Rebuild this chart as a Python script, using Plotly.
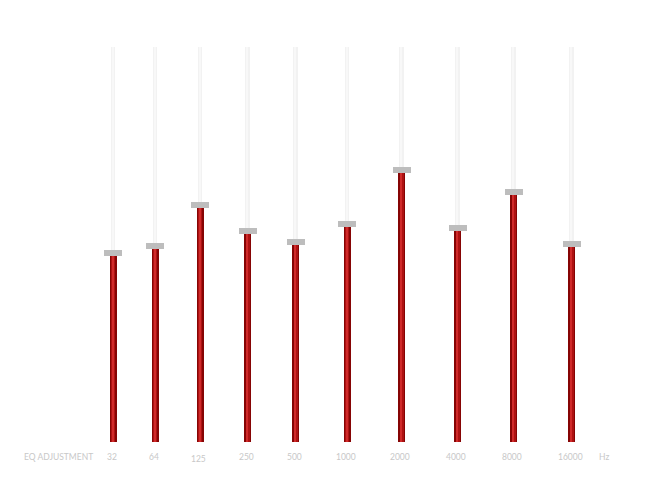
import plotly.graph_objects as go

# ---- data ----
bands = ["32", "64", "125", "250", "500", "1000", "2000", "4000", "8000", "16000"]
gain_levels = [47.8, 49.6, 60.0, 53.4, 50.6, 55.2, 68.9, 54.2, 63.3, 50.1]  # 0-100 slider scale
axis_title = "EQ ADJUSTMENT"
unit_label = "Hz"

# ---- layout (column centres on a page-pixel-like layout scale) ----
COLUMN_X = [113, 155, 200, 247.5, 295.5, 347, 401.5, 457.5, 513.5, 571.5]
TRACK_MAX = 100
KNOB_H = 1.6
PAGE_OFFSET = 8  # default body margin of the html page
LABEL_Y = -0.038

fig = go.Figure()

# slider tracks
fig.add_trace(go.Bar(x=COLUMN_X, y=[TRACK_MAX] * len(bands), base=0, width=4.5,
                     marker=dict(color="#f2f2f2", line=dict(width=0)),
                     hoverinfo="skip"))
fig.add_trace(go.Bar(x=COLUMN_X, y=[TRACK_MAX] * len(bands), base=0, width=1.5,
                     marker=dict(color="#f8f8f8", line=dict(width=0)),
                     hoverinfo="skip"))
# level bars (dark edge + bright core for a cylindrical look)
fig.add_trace(go.Bar(x=COLUMN_X, y=gain_levels, base=0, width=7,
                     marker=dict(color="#860404", line=dict(width=0)),
                     hovertext=bands, hoverinfo="text+y"))
fig.add_trace(go.Bar(x=COLUMN_X, y=gain_levels, base=0, width=4,
                     marker=dict(color="#ae1212", line=dict(width=0)),
                     hoverinfo="skip"))
fig.add_trace(go.Bar(x=COLUMN_X, y=gain_levels, base=0, width=1.5,
                     marker=dict(color="#d02a2a", line=dict(width=0)),
                     hoverinfo="skip"))
# knobs
fig.add_trace(go.Bar(x=COLUMN_X, y=[KNOB_H] * len(bands),
                     base=[v - KNOB_H / 2 for v in gain_levels], width=18,
                     marker=dict(color="#bdbdbd", line=dict(width=0)),
                     hoverinfo="skip"))

label_font = dict(family="Lato, sans-serif", size=8.5, color="#c8c8c8")
for xv, lab in zip(COLUMN_X, bands):
    fig.add_annotation(x=xv - 1.5, y=LABEL_Y, xref="x", yref="paper", text=lab, showarrow=False,
                       font=label_font, yanchor="middle",
                       yshift=-2 if lab == "125" else 0)
fig.add_annotation(x=58, y=LABEL_Y, xref="x", yref="paper", text=axis_title, showarrow=False,
                   font=label_font, yanchor="middle")
fig.add_annotation(x=604, y=LABEL_Y, xref="x", yref="paper", text=unit_label, showarrow=False,
                   font=label_font, yanchor="middle")

fig.update_layout(
    width=650, height=500,
    margin=dict(l=0, r=0, t=47 - PAGE_OFFSET, b=58 + PAGE_OFFSET),
    barmode="overlay",
    bargap=0,
    showlegend=False,
    plot_bgcolor="white", paper_bgcolor="white",
    xaxis=dict(range=[PAGE_OFFSET, 650 + PAGE_OFFSET], visible=False, fixedrange=True),
    yaxis=dict(range=[0, TRACK_MAX], visible=False, fixedrange=True),
)

fig.write_html("out.html")
